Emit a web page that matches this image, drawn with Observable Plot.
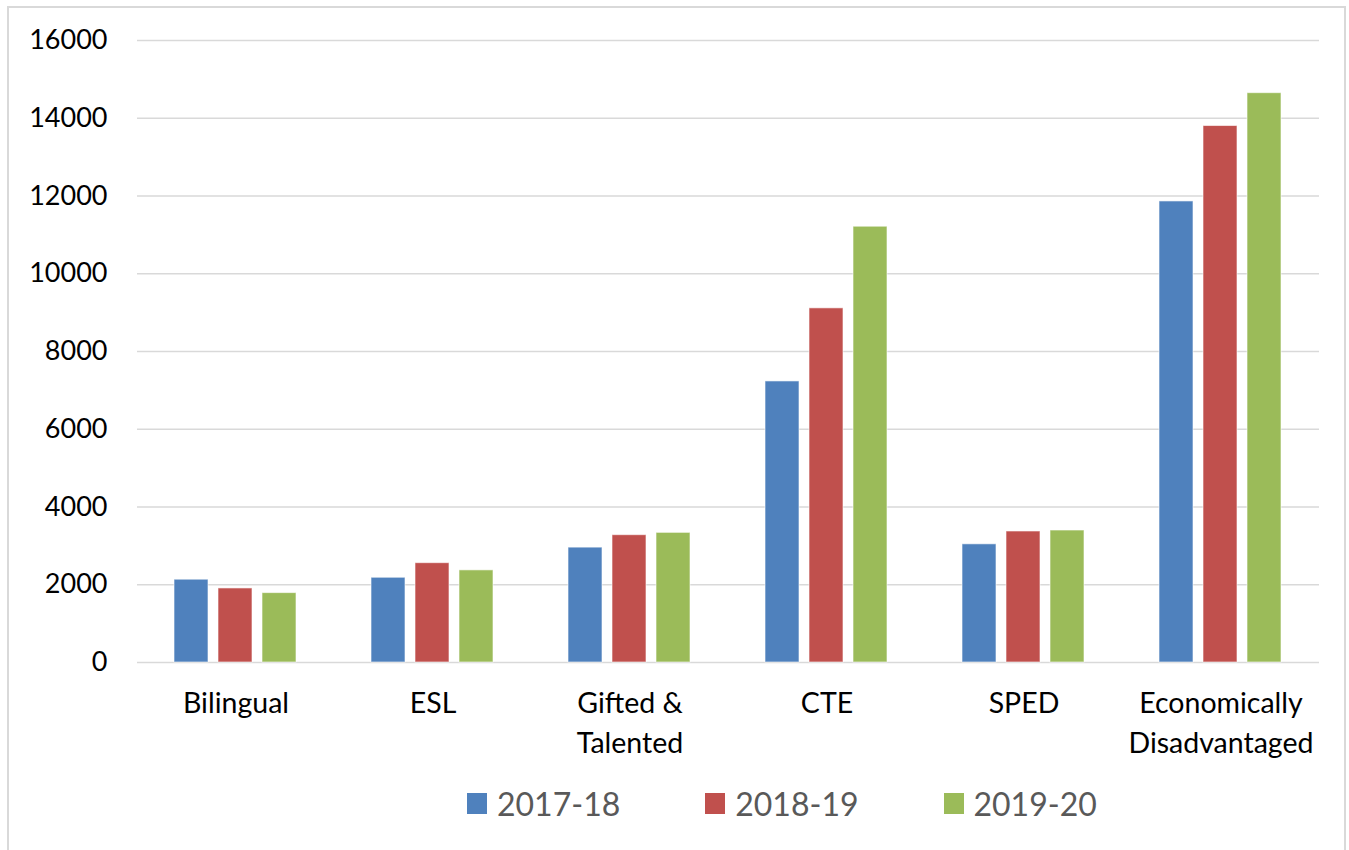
<!DOCTYPE html>
<html>
<head>
<meta charset="utf-8">
<script src="https://cdn.jsdelivr.net/npm/d3@7"></script>
<script src="https://cdn.jsdelivr.net/npm/@observablehq/plot@0.6"></script>
<style>
  html, body { margin: 0; padding: 0; background: #fff; }
  #wrap { position: relative; width: 1349px; height: 850px; overflow: hidden; font-family: Lato, sans-serif; }
  #frame { position: absolute; left: 7px; top: 6px; width: 1339px; height: 860px; border: 2px solid #d9d9d9; box-sizing: border-box; }
  #chart { position: absolute; left: 0; top: 0; }
  #legend { position: absolute; left: 467px; top: 784px; display: flex; align-items: center; gap: 85px; }
  .item { display: flex; align-items: center; gap: 10px; font-size: 32px; color: #595959; }
  .sw { width: 20px; height: 21px; }
</style>
</head>
<body>
<div id="wrap">
  <div id="frame"></div>
  <div id="chart"></div>
  <div id="legend"></div>
</div>
<script>
const categories = ["Bilingual", "ESL", "Gifted & Talented", "CTE", "SPED", "Economically Disadvantaged"];
const categoryLabels = ["Bilingual", "ESL", "Gifted &\nTalented", "CTE", "SPED", "Economically\nDisadvantaged"];
const years = ["2017-18", "2018-19", "2019-20"];
const values2017 = [2130, 2180, 2955, 7230, 3040, 11860];
const values2018 = [1905, 2555, 3275, 9110, 3370, 13800];
const values2019 = [1785, 2370, 3335, 11210, 3395, 14645];
const colors = ["#4F81BD", "#C0504D", "#9BBB59"];
const yTicks = [0, 2000, 4000, 6000, 8000, 10000, 12000, 14000, 16000];

const series = [values2017, values2018, values2019];
const rows = [];
categories.forEach((c, i) => {
  years.forEach((y, j) => rows.push({category: c, year: y, value: series[j][i]}));
});
const labelOf = new Map(categories.map((c, i) => [c, categoryLabels[i]]));

const chart = Plot.plot({
  width: 1349,
  height: 770,
  marginLeft: 136,
  marginRight: 30,
  marginTop: 40,
  marginBottom: 108,
  style: {fontFamily: "Lato, sans-serif", fontSize: "27px", color: "#000", background: "transparent"},
  fx: {domain: categories, padding: 0, label: null},
  x: {domain: years, paddingInner: 0.227, paddingOuter: 0.84, axis: null},
  y: {domain: [0, 16000], label: null},
  color: {domain: years, range: colors},
  marks: [
    Plot.gridY(yTicks, {stroke: "#d9d9d9", strokeOpacity: 1, strokeWidth: 1.5}),
    Plot.axisY(yTicks, {tickSize: 0, tickPadding: 30, fontSize: 27, label: null, tickFormat: d => String(d)}),
    Plot.barY(rows, {fx: "category", x: "year", y: "value", fill: "year", stroke: "#ffffff", strokeOpacity: 0.6, strokeWidth: 1}),
    Plot.axisFx({anchor: "bottom", tickSize: 0, tickPadding: 22, fontSize: 28.5, lineHeight: 1.4, label: null, tickFormat: d => labelOf.get(d)})
  ]
});
document.getElementById("chart").appendChild(chart);

const legend = document.getElementById("legend");
years.forEach((y, j) => {
  const item = document.createElement("div");
  item.className = "item";
  const sw = document.createElement("div");
  sw.className = "sw";
  sw.style.background = colors[j];
  const t = document.createElement("span");
  t.textContent = y;
  item.appendChild(sw);
  item.appendChild(t);
  legend.appendChild(item);
});
</script>
</body>
</html>
